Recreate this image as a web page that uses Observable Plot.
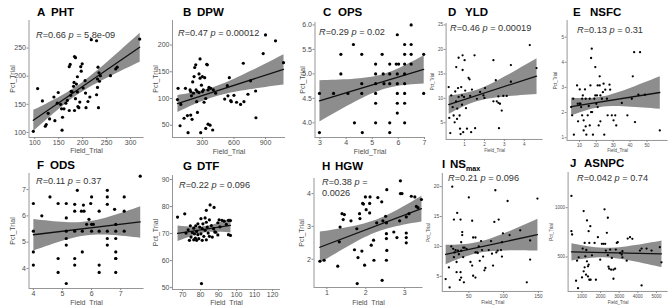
<!DOCTYPE html>
<html><head><meta charset="utf-8">
<script src="https://cdn.jsdelivr.net/npm/d3@7"></script>
<script src="https://cdn.jsdelivr.net/npm/@observablehq/plot@0.6"></script>
<style>
html,body{margin:0;padding:0;background:#fff;}
#root{position:relative;width:669px;height:306px;overflow:hidden;font-family:"Liberation Sans",Arial,sans-serif;}
#overlay{position:absolute;left:0;top:0;pointer-events:none;}
</style></head><body><div id="root"></div>
<script>
// ---- data: [Field_Trial, Pct_Trial] pairs per trait ----
const PHT = [[97,102],[106,178],[116,156],[122,111],[124,114],[128,134],[131,124],[142,121],[140,163],[147,152],[149,171],[154,150],[156,142],[157,104],[158,127],[161,142],[165,152],[168,157],[172,139],[172,217],[174,221],[175,166],[176,173],[178,172],[181,182],[182,189],[183,235],[185,233],[183,139],[185,160],[187,186],[189,199],[190,146],[192,144],[194,154],[196,217],[197,209],[199,222],[201,179],[205,192],[207,144],[206,170],[211,155],[215,163],[218,265],[229,263],[231,195],[231,180],[232,216],[234,206],[233,144],[229,167],[235,191],[258,201],[269,213],[272,216],[319,266],[189,172],[237,201]];
const DPW = [[69,119],[63,98],[95,89],[88,49],[126,63],[139,119],[158,68],[164,36],[183,116],[189,113],[196,105],[189,69],[202,61],[208,131],[215,110],[221,141],[227,158],[237,163],[240,116],[246,94],[253,74],[253,113],[268,111],[268,146],[278,174],[278,138],[284,36],[291,125],[300,141],[300,113],[309,116],[316,93],[322,139],[332,100],[332,44],[341,164],[347,163],[354,116],[354,52],[363,121],[373,50],[379,119],[398,41],[404,116],[426,110],[512,99],[537,124],[543,105],[556,139],[569,96],[575,94],[600,106],[625,93],[689,166],[663,89],[695,94],[733,108],[758,133],[806,114],[809,64],[878,184],[900,219],[995,208],[1071,167]];
const OPS = [[2.98,4.6],[2.98,3.8],[3.52,4.6],[3.8,5.4],[3.8,5.0],[4.07,4.6],[4.28,5.6],[4.32,4.0],[4.6,5.4],[4.6,4.8],[4.6,4.6],[4.62,3.8],[5.13,5.2],[5.13,5.0],[5.13,4.8],[5.13,4.6],[5.13,4.4],[5.13,4.0],[5.38,5.4],[5.42,5.0],[5.45,4.8],[5.67,5.2],[5.67,5.0],[5.67,4.8],[5.67,4.0],[5.67,3.8],[5.96,5.8],[5.92,5.2],[5.96,5.0],[5.96,4.8],[5.96,4.6],[5.96,4.4],[5.96,4.2],[6.01,5.2],[6.24,5.6],[6.24,5.4],[6.24,5.2],[6.24,5.0],[6.24,4.8],[6.24,4.6],[6.24,4.4],[6.24,4.0],[6.49,6.0],[6.49,5.6],[6.49,5.4],[6.49,5.2],[6.97,5.4],[6.97,4.6]];
const YLD = [[0.2,12.3],[0.23,6.0],[0.28,2.9],[0.33,10.6],[0.4,8.2],[0.45,6.5],[0.5,5.1],[0.53,11.4],[0.57,9.4],[0.58,16.4],[0.62,5.8],[0.63,7.9],[0.67,12.1],[0.7,18.3],[0.7,10.3],[0.75,6.5],[0.77,3.8],[0.8,2.7],[0.83,12.3],[0.87,10.6],[0.87,8.7],[0.9,18.8],[0.9,15.8],[0.93,3.1],[0.97,10.3],[1.0,17.8],[1.03,11.6],[1.07,8.0],[1.12,3.8],[1.2,14.2],[1.25,13.9],[1.28,10.5],[1.33,3.1],[1.37,11.8],[1.5,18.8],[1.53,3.9],[1.62,9.9],[1.78,11.3],[1.95,10.6],[2.0,10.1],[2.03,12.1],[2.45,9.4],[2.62,9.4],[2.7,9.1],[2.78,8.9],[2.87,7.5],[2.73,3.9],[2.45,17.8],[2.57,13.7],[2.7,10.4],[2.95,10.5],[3.12,10.5],[3.33,16.8],[3.33,13.4],[4.28,20.9],[4.62,16.2]];
const NSFC = [[5.1,2.22],[5.7,1.89],[6.3,2.55],[6.7,1.12],[8.6,3.08],[9.0,2.35],[9.2,1.65],[10.2,2.35],[10.2,2.92],[10.6,2.35],[11.0,2.22],[11.6,1.89],[11.6,2.55],[12.0,2.68],[12.5,1.69],[12.5,1.29],[13.3,2.92],[13.7,2.55],[13.7,1.45],[14.1,1.12],[14.9,1.89],[15.5,2.26],[16.1,2.55],[16.1,1.49],[16.5,3.08],[16.9,2.02],[16.9,4.17],[17.3,4.54],[17.5,2.02],[18.0,1.12],[18.8,2.55],[19.4,3.81],[19.4,2.68],[20.0,2.35],[20.4,2.68],[20.8,2.22],[20.8,3.08],[21.4,1.49],[22.0,3.44],[22.0,3.08],[22.4,2.68],[22.4,1.65],[23.3,2.55],[23.9,2.81],[24.3,3.15],[24.7,1.12],[25.3,2.91],[26.3,2.55],[26.7,1.89],[27.8,3.11],[28.2,2.91],[29.2,1.89],[30.2,1.69],[31.2,1.89],[31.8,1.49],[35.1,2.38],[38.4,1.89],[41.0,2.55],[41.6,3.44],[42.4,4.40],[42.9,1.62],[44.9,2.71],[45.9,4.40],[48.8,2.71],[57.6,1.29]];
const ODS = [[4.0,6.47],[4.0,5.42],[4.0,4.63],[4.0,4.13],[4.29,6.0],[4.57,6.72],[4.85,6.47],[4.85,4.38],[4.85,3.85],[5.13,6.47],[5.13,5.92],[5.13,5.42],[5.13,5.14],[5.13,4.89],[5.13,3.43],[5.42,6.44],[5.42,6.18],[5.42,5.42],[5.42,4.38],[5.42,4.13],[5.51,6.97],[5.68,5.42],[5.68,4.63],[5.65,6.18],[5.72,6.41],[5.74,6.18],[5.83,5.68],[5.91,5.87],[5.97,6.47],[6.0,6.72],[6.0,5.68],[6.0,5.42],[6.06,5.68],[6.26,6.18],[6.26,5.42],[6.26,4.13],[6.26,3.85],[6.54,6.97],[6.54,6.72],[6.54,6.44],[6.54,5.42],[6.54,5.14],[6.54,4.89],[6.83,5.42],[6.83,5.14],[6.83,4.63],[6.83,4.38],[6.83,4.38],[6.83,3.85],[6.83,5.68],[6.79,6.25],[7.12,6.72],[7.12,6.18],[7.12,5.42],[7.67,7.51]];
const DTF = [[67.2,76.1],[71.2,77.3],[71.9,70.2],[73.1,71.4],[73.8,67.5],[74.3,72.9],[74.7,68.7],[75.4,70.4],[76.2,72.0],[76.2,67.7],[76.6,69.9],[77.1,68.3],[77.3,72.9],[77.8,70.8],[77.8,67.5],[78.5,73.6],[78.5,69.6],[79.0,68.1],[79.5,72.4],[80.2,75.5],[80.2,69.9],[80.9,71.8],[80.9,67.5],[81.3,73.6],[81.8,69.0],[82.5,71.2],[82.5,75.8],[80.5,51.5],[83.2,74.2],[83.2,67.7],[83.2,78.6],[83.7,72.4],[84.2,70.2],[84.9,75.1],[84.9,69.0],[85.3,80.6],[86.0,73.0],[86.5,68.7],[87.2,71.8],[87.5,79.7],[87.9,70.6],[88.4,70.5],[89.6,74.0],[89.6,69.5],[90.3,75.1],[90.8,72.5],[91.9,74.9],[93.1,74.6],[94.3,73.4],[95.5,74.9],[95.5,69.6],[96.6,74.8],[96.6,69.3]];
const HGW = [[0.82,1.94],[0.93,1.97],[1.32,2.53],[1.34,2.98],[1.39,3.39],[1.42,3.21],[1.45,3.36],[1.28,1.79],[1.62,3.17],[1.71,2.29],[1.77,2.93],[1.80,2.05],[1.78,1.26],[1.84,3.39],[1.85,3.24],[1.90,2.25],[1.92,3.70],[1.94,3.68],[1.97,1.82],[1.99,3.90],[2.01,3.51],[2.10,3.70],[2.11,3.90],[2.10,3.41],[2.14,2.43],[2.21,1.97],[2.20,2.58],[2.28,3.11],[2.31,3.88],[2.41,3.75],[2.42,1.36],[2.44,3.17],[2.51,3.31],[2.53,2.78],[2.53,2.63],[2.54,2.27],[2.53,1.97],[2.54,4.12],[2.53,3.11],[2.72,2.83],[2.80,2.66],[2.87,3.17],[2.89,4.39],[2.89,4.0],[2.93,4.0],[3.04,3.29],[3.04,2.80],[3.04,2.66],[3.04,2.50],[3.11,3.39],[3.17,3.92],[3.26,3.90],[3.30,3.61],[3.34,3.57],[3.43,3.82]];
const NSMAX = [[16.7,4.55],[21.4,6.5],[22.4,3.15],[24.8,10.0],[26.2,20.0],[27.6,9.6],[28.6,14.5],[28.6,8.2],[29.5,9.0],[31.0,9.4],[32.4,7.4],[32.4,5.7],[33.3,15.6],[34.3,9.3],[35.7,8.7],[37.1,4.4],[38.1,14.5],[38.1,5.7],[39.0,9.3],[39.0,10.7],[39.0,4.8],[40.5,12.4],[40.5,11.9],[41.9,9.8],[41.9,8.2],[42.9,4.0],[43.8,9.8],[46.7,9.6],[50.0,18.2],[52.4,7.4],[54.8,14.3],[54.8,6.8],[56.2,11.5],[56.2,5.1],[59.5,11.5],[59.5,9.0],[59.5,4.8],[61.9,9.0],[62.9,8.9],[64.3,10.0],[65.7,7.6],[67.6,10.9],[69.0,9.4],[70.5,8.3],[72.4,6.0],[73.8,6.4],[78.6,9.4],[81.9,10.9],[83.3,8.8],[84.8,6.8],[86.7,14.1],[88.1,19.4],[89.5,9.0],[91.4,9.3],[92.9,14.5],[96.2,9.4],[97.6,8.3],[97.6,10.7],[99.0,12.2],[105.7,17.6],[108.6,11.9],[123.8,12.7],[133.3,4.0],[138.1,11.0],[138.1,7.8],[148.6,18.0]];
const ASNPC = [[430,1119],[430,762],[466,728],[680,259],[733,463],[786,184],[822,497],[1000,293],[1036,585],[1089,966],[1089,354],[1142,395],[1142,643],[1178,507],[1214,320],[1231,571],[1267,871],[1267,456],[1320,405],[1320,303],[1356,762],[1356,422],[1392,643],[1392,269],[1445,813],[1463,269],[1534,517],[1676,643],[1747,269],[1854,701],[1979,473],[2068,633],[2157,633],[2210,983],[2246,633],[2282,565],[2335,745],[2388,898],[2388,518],[2424,402],[2460,381],[2513,575],[2566,371],[2602,490],[2691,371],[2691,279],[2780,381],[2816,575],[2869,643],[2922,650],[3047,541],[3136,524],[3172,497],[3172,558],[3403,463],[3456,687],[3581,701],[3706,684],[4115,565],[4204,585],[4204,211],[4471,585],[4738,565],[5183,599],[5272,446]];

// ---- tick values ----
const PHT_xt=[100,150,200,250,300], PHT_yt=[100,150,200,250];
const DPW_xt=[300,600,900], DPW_yt=[50,100,150,200];
const OPS_xt=[3,4,5,6,7], OPS_yt=[4,4.5,5,5.5,6];
const YLD_xt=[1,2,3,4], YLD_yt=[5,10,15,20,25];
const NSFC_xt=[10,20,30,40,50], NSFC_yt=[1,2,3,4,5];
const ODS_xt=[4,5,6,7], ODS_yt=[4,5,6,7];
const DTF_xt=[70,80,90,100,110,120], DTF_yt=[50,60,70,80,90];
const HGW_xt=[1,2,3], HGW_yt=[2,3,4];
const NSMAX_xt=[50,100,150], NSMAX_yt=[5,10,15,20];
const ASNPC_xt=[1000,2000,3000,4000,5000], ASNPC_yt=[500,1000];

// ---- labels ----
const letters=["A","B","C","D","E","F","G","H","I","J"];
const traits=["PHT","DPW","OPS","YLD","NSFC","ODS","DTF","HGW","NS","ASNPC"];
const rVals=["0.66","0.47","0.29","0.46","0.13","0.11","0.22","0.38","0.21","0.042"];
const pVals=["5.8e-09","0.00012","0.02","0.00019","0.31","0.37","0.096","0.0026","0.096","0.74"];

// ---- layout (pixels) ----
const panels = [
 {d:PHT, xt:PHT_xt, yt:PHT_yt, ax:28, top:20, right:143, bottom:137, xd:[88,328], yd:[91,299], fs:7, r:1.6, xlo:15.5, ylo:18.5, tx:37, nx:51, ty:16, sx:36, sy:38},
 {d:DPW, xt:DPW_xt, yt:DPW_yt, ax:172, top:20, right:285, bottom:137, xd:[16,1090], yd:[27,246], fs:7, r:1.6, xlo:16.5, ylo:19, tx:183, nx:197, ty:16, sx:178, sy:36},
 {d:OPS, xt:OPS_xt, yt:OPS_yt, yfmt:".1f", ax:314, top:22, right:424, bottom:137, xd:[2.81,7.02], yd:[3.70,6.05], fs:7, r:1.6, xlo:16.5, ylo:14.5, tx:323, nx:338, ty:16, sx:319, sy:35},
 {d:YLD, xt:YLD_xt, yt:YLD_yt, ax:446, top:23, right:543, bottom:139, xd:[0.07,4.95], yd:[1.6,25.3], fs:4.5, r:1.15, xlo:12.6, ylo:15.6, tx:448, nx:465, ty:16, sx:450, sy:31},
 {d:NSFC, xt:NSFC_xt, yt:NSFC_yt, ax:567, top:20, right:668, bottom:140, xd:[2.7,62.5], yd:[0.89,5.66], fs:4.5, r:1.15, xlo:11.6, ylo:13.6, tx:573, nx:590, ty:16, sx:577, sy:33},
 {d:ODS, xt:ODS_xt, yt:ODS_yt, ax:28, top:173, right:143, bottom:288, xd:[3.85,7.80], yd:[3.24,7.61], fs:7, r:1.6, xlo:16.5, ylo:18.5, tx:37, nx:50, ty:169, sx:36, sy:184},
 {d:DTF, xt:DTF_xt, yt:DTF_yt, ax:172, top:175, right:280, bottom:289, xd:[64.4,124.4], yd:[49.3,91.5], fs:7, r:1.6, xlo:15.5, ylo:19, tx:183, nx:197, ty:170, sx:179, sy:188},
 {d:HGW, xt:HGW_xt, yt:HGW_yt, ax:313, top:178, right:422, bottom:287, xd:[0.67,3.47], yd:[1.14,4.46], fs:7, r:1.6, xlo:17.5, ylo:14.5, tx:322, nx:335, ty:170, sx:322, sy:185, split:true},
 {d:NSMAX, xt:NSMAX_xt, yt:NSMAX_yt, ax:442, top:173, right:543, bottom:291, xd:[11.9,157], yd:[2.47,22.2], fs:5, r:1.15, xlo:12.8, ylo:15.8, tx:442, nx:450, ty:168, sx:448, sy:181, sub:"max"},
 {d:ASNPC, xt:ASNPC_xt, yt:ASNPC_yt, ax:568, top:172, right:668, bottom:291, xd:[252,5628], yd:[150,1357], fs:4.5, r:1.15, xlo:12.8, ylo:18.6, tx:570, nx:584, ty:167, sx:577, sy:181}
];

const root = document.getElementById("root");
const axisGray = "#8a8a8a", textGray = "#4d4d4d";
const plain = (d) => String(d);

panels.forEach((p) => {
  const data = p.d.map(([x, y]) => ({x, y}));
  const ml = p.ylo + 3, mr = 3, mt = 3, mb = p.xlo + 3;
  const w = ml + (p.right - p.ax) + mr;
  const h = mt + (p.bottom - p.top) + mb;
  const svg = Plot.plot({
    width: w, height: h,
    marginLeft: ml, marginRight: mr, marginTop: mt, marginBottom: mb,
    x: {domain: p.xd}, y: {domain: p.yd},
    style: {fontFamily: '"Liberation Sans", Arial, sans-serif', fontSize: p.fs + "px", color: textGray, background: "transparent", overflow: "visible"},
    marks: [
      Plot.linearRegressionY(data, {x: "x", y: "y", stroke: "#111", strokeWidth: 1.3, fill: "#8d8d8d", fillOpacity: 1}),
      Plot.dot(data, {x: "x", y: "y", r: p.r, fill: "#000"}),
      Plot.ruleX([p.xd[0]], {stroke: axisGray, strokeWidth: 0.9}),
      Plot.ruleY([p.yd[0]], {stroke: axisGray, strokeWidth: 0.9}),
      Plot.axisX({ticks: p.xt, tickFormat: plain, tickSize: 2, tickPadding: 1, stroke: axisGray, fill: textGray, label: "Field_Trial", labelAnchor: "center", labelArrow: "none", labelOffset: p.xlo}),
      Plot.axisY({ticks: p.yt, tickFormat: p.yfmt ? d3.format(p.yfmt) : plain, tickSize: 2, tickPadding: 1, stroke: axisGray, fill: textGray, label: "Pct_Trial", labelAnchor: "center", labelArrow: "none", labelOffset: p.ylo})
    ]
  });
  svg.style.position = "absolute";
  svg.style.left = (p.ax - ml) + "px";
  svg.style.top = (p.top - mt) + "px";
  root.appendChild(svg);
});

// ---- overlay: panel titles and correlation labels ----
const NS = "http://www.w3.org/2000/svg";
const ov = document.createElementNS(NS, "svg");
ov.setAttribute("id", "overlay");
ov.setAttribute("width", 669); ov.setAttribute("height", 306);
root.appendChild(ov);
function txt(x, y, parts, size, weight, fill) {
  const t = document.createElementNS(NS, "text");
  t.setAttribute("x", x); t.setAttribute("y", y);
  t.setAttribute("font-family", '"Liberation Sans", Arial, sans-serif');
  t.setAttribute("font-size", size); t.setAttribute("font-weight", weight);
  t.setAttribute("fill", fill);
  t.style.whiteSpace = "pre";
  for (const [s, style] of parts) {
    const ts = document.createElementNS(NS, "tspan");
    if (style === "i") ts.setAttribute("font-style", "italic");
    if (style === "sub") { ts.setAttribute("font-size", size * 0.62); ts.setAttribute("dy", 3); }
    ts.textContent = s;
    t.appendChild(ts);
  }
  ov.appendChild(t);
}
panels.forEach((p, i) => {
  txt(p.tx, p.ty, [[letters[i], ""]], 11.5, "bold", "#000");
  const np = [[traits[i], ""]];
  if (p.sub) np.push([p.sub, "sub"]);
  txt(p.nx, p.ty, np, 11.5, "bold", "#000");
  if (p.split) {
    txt(p.sx, p.sy, [["R", "i"], ["=" + rVals[i] + " ", ""], ["p", "i"], [" =", ""]], 9.2, "normal", "#333");
    txt(p.sx, p.sy + 11, [[pVals[i], ""]], 9.2, "normal", "#333");
  } else {
    txt(p.sx, p.sy, [["R", "i"], ["=" + rVals[i] + " ", ""], ["p", "i"], [" = " + pVals[i], ""]], 9.2, "normal", "#333");
  }
});
</script></body></html>
